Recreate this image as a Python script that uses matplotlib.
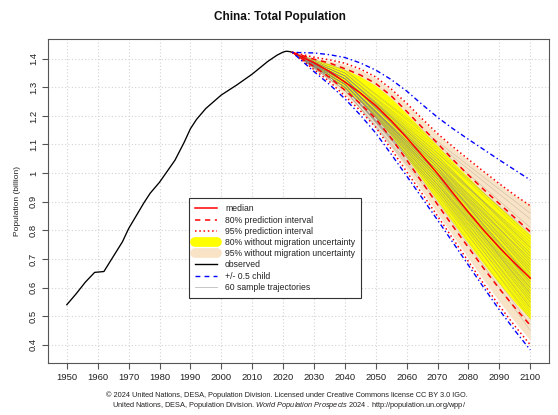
import matplotlib
matplotlib.use("Agg")
import matplotlib.pyplot as plt
from matplotlib.lines import Line2D

plt.rcParams['font.family'] = ['Liberation Sans', 'DejaVu Sans']
plt.rcParams['mathtext.fontset'] = 'custom'
plt.rcParams['mathtext.rm'] = 'Liberation Sans'
plt.rcParams['mathtext.it'] = 'Liberation Sans:italic'

# --- observed ---
obs_years = [1950, 1953, 1956, 1959, 1962, 1965, 1968, 1970, 1975, 1977, 1980, 1985, 1988,
             1990, 1992, 1995, 2000, 2005, 2010, 2015, 2018, 2020, 2021, 2022, 2023]
obs_pop = [0.540, 0.578, 0.619, 0.653, 0.656, 0.708, 0.760, 0.806, 0.897, 0.930, 0.968, 1.045, 1.108,
           1.155, 1.188, 1.226, 1.273, 1.308, 1.346, 1.390, 1.412, 1.423, 1.426, 1.425, 1.422]

# --- projections ---
proj_years = [2023, 2030, 2035, 2040, 2045, 2050, 2055, 2060, 2065, 2070, 2075, 2080, 2085, 2090, 2095, 2100]
median = [1.422, 1.386, 1.355, 1.318, 1.280, 1.236, 1.183, 1.124, 1.062, 0.998, 0.930, 0.863, 0.799, 0.740, 0.685, 0.633]
pi80_up = [1.422, 1.398, 1.385, 1.365, 1.343, 1.313, 1.270, 1.216, 1.160, 1.104, 1.047, 0.993, 0.942, 0.893, 0.844, 0.795]
pi80_lo = [1.422, 1.372, 1.335, 1.290, 1.243, 1.190, 1.122, 1.046, 0.968, 0.890, 0.814, 0.740, 0.666, 0.596, 0.530, 0.468]
pi95_up = [1.422, 1.405, 1.396, 1.384, 1.364, 1.336, 1.294, 1.244, 1.190, 1.138, 1.092, 1.048, 1.005, 0.963, 0.923, 0.886]
pi95_lo = [1.422, 1.362, 1.320, 1.270, 1.218, 1.160, 1.084, 1.005, 0.928, 0.850, 0.770, 0.691, 0.612, 0.536, 0.466, 0.400]
half_up = [1.422, 1.420, 1.414, 1.404, 1.385, 1.360, 1.327, 1.287, 1.240, 1.195, 1.155, 1.118, 1.082, 1.046, 1.011, 0.976]
half_lo = [1.422, 1.355, 1.310, 1.260, 1.203, 1.140, 1.066, 0.990, 0.913, 0.836, 0.757, 0.678, 0.599, 0.522, 0.450, 0.382]
nomig80_up = [1.422, 1.397, 1.382, 1.362, 1.338, 1.306, 1.262, 1.208, 1.152, 1.096, 1.040, 0.985, 0.932, 0.883, 0.834, 0.785]
nomig80_lo = [1.422, 1.374, 1.338, 1.294, 1.249, 1.196, 1.130, 1.055, 0.978, 0.902, 0.827, 0.754, 0.681, 0.613, 0.549, 0.490]
nomig95_up = [1.422, 1.403, 1.393, 1.380, 1.360, 1.332, 1.290, 1.240, 1.186, 1.134, 1.088, 1.044, 1.002, 0.961, 0.921, 0.890]
nomig95_lo = [1.422, 1.364, 1.324, 1.275, 1.224, 1.167, 1.092, 1.014, 0.938, 0.860, 0.781, 0.703, 0.625, 0.551, 0.481, 0.415]

# --- 60 sample trajectories (values at 2023, 2040, 2070, 2100) ---
traj_years = [2023, 2040, 2070, 2100]
traj_2040 = [1.30, 1.32, 1.33, 1.31, 1.34, 1.32, 1.30, 1.33, 1.32, 1.31,
             1.35, 1.31, 1.29, 1.34, 1.32, 1.33, 1.31, 1.35, 1.32, 1.33,
             1.30, 1.34, 1.32, 1.31, 1.33, 1.29, 1.32, 1.35, 1.31, 1.30,
             1.32, 1.34, 1.31, 1.36, 1.32, 1.33, 1.30, 1.32, 1.31, 1.32,
             1.34, 1.30, 1.33, 1.33, 1.30, 1.32, 1.31, 1.34, 1.32, 1.29,
             1.33, 1.30, 1.34, 1.31, 1.33, 1.30, 1.33, 1.32, 1.36, 1.31]
traj_2070 = [0.93, 0.99, 1.03, 0.96, 1.06, 1.01, 0.95, 1.02, 1.00, 0.97,
             1.08, 0.98, 0.92, 1.05, 1.00, 1.02, 0.97, 1.09, 0.99, 1.04,
             0.94, 1.05, 1.01, 0.98, 1.03, 0.91, 1.00, 1.07, 0.96, 0.95,
             1.01, 1.06, 0.99, 1.10, 0.98, 1.03, 0.93, 1.01, 0.99, 1.00,
             1.04, 0.96, 1.02, 1.03, 0.94, 1.00, 0.97, 1.07, 1.01, 0.90,
             1.03, 0.95, 1.05, 0.98, 1.02, 0.94, 1.04, 0.99, 1.11, 0.96]
traj_2100 = [0.52, 0.61, 0.68, 0.57, 0.74, 0.63, 0.55, 0.70, 0.66, 0.59,
             0.78, 0.64, 0.50, 0.72, 0.60, 0.67, 0.56, 0.81, 0.62, 0.69,
             0.54, 0.75, 0.65, 0.58, 0.71, 0.47, 0.63, 0.77, 0.60, 0.53,
             0.68, 0.73, 0.57, 0.84, 0.62, 0.66, 0.49, 0.70, 0.59, 0.64,
             0.76, 0.55, 0.61, 0.72, 0.51, 0.67, 0.58, 0.79, 0.63, 0.45,
             0.69, 0.56, 0.74, 0.60, 0.65, 0.53, 0.71, 0.62, 0.86, 0.58]

x_ticks = list(range(1950, 2101, 10))
y_ticks = [0.4, 0.5, 0.6, 0.7, 0.8, 0.9, 1.0, 1.1, 1.2, 1.3, 1.4]
y_labels = ["0.4", "0.5", "0.6", "0.7", "0.8", "0.9", "1", "1.1", "1.2", "1.3", "1.4"]

fig = plt.figure(figsize=(5.58, 4.15), dpi=100)
ax = fig.add_axes([0.086, 0.1265, 0.898, 0.779])

ax.fill_between(proj_years, nomig95_lo, nomig95_up, color='#F8E3C6', lw=0, zorder=1)
ax.fill_between(proj_years, nomig80_lo, nomig80_up, color='#FFFF00', lw=0, zorder=2)
for a, b, c in zip(traj_2040, traj_2070, traj_2100):
    ax.plot(traj_years, [obs_pop[-1], a, b, c], color='#8a8a7a', lw=0.3, alpha=0.55, zorder=3)

ax.plot(obs_years, obs_pop, color='black', lw=0.95, zorder=5)
ax.plot(proj_years, median, color='red', lw=1.1, zorder=6)
ax.plot(proj_years, pi80_up, color='red', lw=1.1, ls=(0, (3.5, 3)), zorder=6)
ax.plot(proj_years, pi80_lo, color='red', lw=1.1, ls=(0, (3.5, 3)), zorder=6)
ax.plot(proj_years, pi95_up, color='red', lw=1.1, ls=(0, (1, 1.8)), zorder=6)
ax.plot(proj_years, pi95_lo, color='red', lw=1.1, ls=(0, (1, 1.8)), zorder=6)
ax.plot(proj_years, half_up, color='blue', lw=1.0, ls=(0, (1, 2, 3.5, 2)), zorder=6)
ax.plot(proj_years, half_lo, color='blue', lw=1.0, ls=(0, (1, 2, 3.5, 2)), zorder=6)

ax.set_xlim(1943.9, 2106.1)
ax.set_ylim(0.338, 1.468)
ax.set_xticks(x_ticks)
ax.set_xticklabels([str(y) for y in x_ticks], fontsize=6.8, color='#222222')
ax.set_yticks(y_ticks)
ax.set_yticklabels(y_labels, fontsize=6.8, rotation=90, va='center', color='#222222')
ax.tick_params(length=4.3, width=0.8, color='#555555', pad=3)
ax.grid(True, color='#D3D3D3', lw=0.8, ls=(0, (1, 2)))
ax.set_axisbelow(True)
for s in ax.spines.values():
    s.set_color('#555555')
    s.set_linewidth(0.8)

ax.set_ylabel("Population (billion)", fontsize=6, labelpad=6, color='#222222')
fig.text(280 / 558, 1 - 17 / 415, "China: Total Population", ha='center', va='center',
         fontsize=8.5, fontweight='bold', color='#111111')

handles = [
    Line2D([], [], color='red', lw=1.1),
    Line2D([], [], color='red', lw=1.1, ls=(0, (3.5, 3))),
    Line2D([], [], color='red', lw=1.1, ls=(0, (1, 1.8))),
    Line2D([], [], color='#FFFF00', lw=7, solid_capstyle='round'),
    Line2D([], [], color='#F8E3C6', lw=7, solid_capstyle='round'),
    Line2D([], [], color='black', lw=1.0),
    Line2D([], [], color='blue', lw=1.0, ls=(0, (3.5, 3))),
    Line2D([], [], color='#bbbbbb', lw=0.6),
]
labels = ["median", "80% prediction interval", "95% prediction interval",
          "80% without migration uncertainty", "95% without migration uncertainty",
          "observed", "+/- 0.5 child", "60 sample trajectories"]
leg = ax.legend(handles, labels, loc='upper left', bbox_to_anchor=(0.281, 0.508),
                fontsize=6.2, frameon=True, fancybox=False, framealpha=1, edgecolor='#333333',
                handlelength=2.6, handletextpad=0.9, labelspacing=0.26, borderpad=0.7,
                borderaxespad=0)
leg.get_frame().set_linewidth(0.8)
for t in leg.get_texts():
    t.set_color('#222222')

fig.text(287 / 558, 1 - 395 / 415,
         "\u00a9 2024 United Nations, DESA, Population Division. Licensed under Creative Commons license CC BY 3.0 IGO.",
         ha='center', va='center', fontsize=5.3, color='#222222')
fig.text(289 / 558, 1 - 405.5 / 415,
         r"United Nations, DESA, Population Division. $\mathit{World\ Population\ Prospects\ 2024}$ . http://population.un.org/wpp/",
         ha='center', va='center', fontsize=5.3, color='#222222')

fig.savefig("out.png", dpi=100)
